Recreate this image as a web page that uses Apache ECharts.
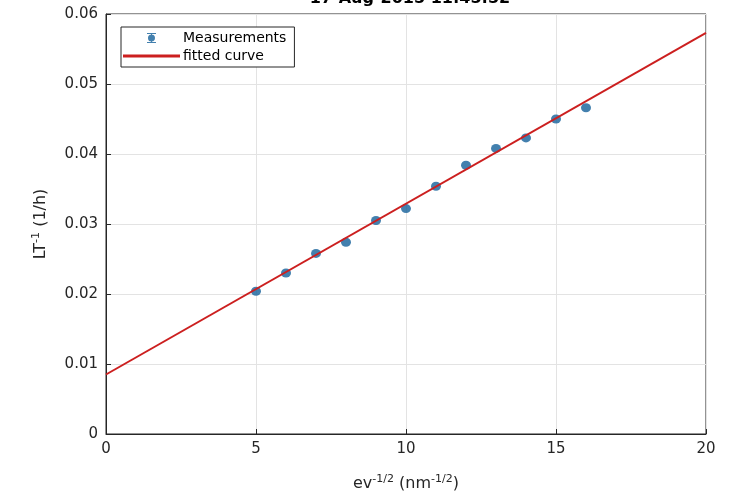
<!DOCTYPE html>
<html>
<head>
<meta charset="utf-8">
<script src="https://cdn.jsdelivr.net/npm/echarts@6/dist/echarts.min.js"></script>
<style>html,body{margin:0;padding:0;background:#fff;}#c{width:735px;height:498px;}</style>
</head>
<body>
<div id="c"></div>
<script>
var titleText = '17-Aug-2015 11:45:52';
var xValues = [5, 6, 7, 8, 9, 10, 11, 12, 13, 14, 15, 16];
var yValues = [0.0204, 0.0230, 0.0258, 0.0274, 0.0305, 0.0322, 0.0354, 0.0384, 0.0408, 0.0423, 0.0450, 0.0466];
var fitX = [0, 20];
var fitY = [0.0085, 0.0573];
var xTicks = [0, 5, 10, 15, 20];
var yTicks = [0, 0.01, 0.02, 0.03, 0.04, 0.05, 0.06];

var chart = echarts.init(document.getElementById('c'), null, {renderer: 'canvas'});
var font = 'DejaVu Sans';
var meas = xValues.map(function (x, i) { return [x, yValues[i]]; });
var fit = fitX.map(function (x, i) { return [x, fitY[i]]; });

chart.setOption({
  backgroundColor: '#fff',
  animation: false,
  title: {
    text: titleText, left: 405, textAlign: 'center', top: -14,
    textStyle: {fontFamily: font, fontSize: 16, fontWeight: 'bold', color: '#000'}
  },
  grid: {left: 106, right: 29, top: 14, bottom: 64, show: true, borderColor: '#262626', borderWidth: 1, backgroundColor: '#fff'},
  legend: {
    left: 121, top: 27, orient: 'vertical', itemGap: 4,
    padding: [4, 8, 4, 2],
    borderColor: '#262626', borderWidth: 1, borderRadius: 0, backgroundColor: '#fff',
    itemWidth: 57, itemHeight: 10,
    textStyle: {fontFamily: font, fontSize: 14, color: '#000', padding: [0, 0, 0, -2]},
    data: [
      {name: 'Measurements', icon: 'path://M0,0 L57,0 L57,0.01 L0,0.01 Z M24,0 L33,0 L33,1 L29,1 L29,9 L33,9 L33,10 L24,10 L24,9 L28,9 L28,1 L24,1 Z M28.5,1.5 A3.5,3.5 0 1 1 28.49,1.5 Z M0,9.99 L57,9.99 L57,10 L0,10 Z'},
      {name: 'fitted curve', icon: 'path://M0,0 L57,0 L57,0.01 L0,0.01 Z M0,3.5 L57,3.5 L57,6.5 L0,6.5 Z M0,9.99 L57,9.99 L57,10 L0,10 Z'}
    ]
  },
  xAxis: {
    type: 'value', min: 0, max: 20, interval: 5,
    name: '{a|ev}{s|-1/2}{a| (nm}{s|-1/2}{a|)}',
    nameLocation: 'middle', nameGap: 40,
    nameTextStyle: {rich: {a: {fontFamily: font, fontSize: 16, color: '#262626'}, s: {fontFamily: font, fontSize: 11, color: '#262626', verticalAlign: 'top', padding: [0, 0, 8, 0]}}},
    axisLine: {show: true, onZero: false, lineStyle: {color: '#262626'}},
    axisTick: {show: true, inside: true, length: 5, lineStyle: {color: '#262626'}},
    axisLabel: {fontFamily: font, fontSize: 15, color: '#262626', margin: 8,
      formatter: function (v) { return xTicks.indexOf(v) >= 0 ? String(v) : ''; }},
    splitLine: {show: true, lineStyle: {color: '#e3e3e3', width: 1}}
  },
  yAxis: {
    type: 'value', min: 0, max: 0.06, interval: 0.01,
    name: '{a|LT}{s|-1}{a| (1/h)}',
    nameLocation: 'middle', nameGap: 56,
    nameTextStyle: {rich: {a: {fontFamily: font, fontSize: 16, color: '#262626'}, s: {fontFamily: font, fontSize: 11, color: '#262626', verticalAlign: 'top', padding: [0, 0, 8, 0]}}},
    axisLine: {show: true, onZero: false, lineStyle: {color: '#262626'}},
    axisTick: {show: true, inside: true, length: 5, lineStyle: {color: '#262626'}},
    axisLabel: {fontFamily: font, fontSize: 15, color: '#262626', margin: 8,
      formatter: function (v) {
        for (var i = 0; i < yTicks.length; i++) { if (Math.abs(yTicks[i] - v) < 1e-9) return String(yTicks[i]); }
        return '';
      }},
    splitLine: {show: true, lineStyle: {color: '#e3e3e3', width: 1}}
  },
  series: [
    {
      name: 'Measurements', type: 'scatter', data: meas, symbol: 'circle', symbolSize: [10, 9],
      itemStyle: {color: '#14609a'}, z: 2
    },
    {
      name: 'fitted curve', type: 'line', data: fit, symbol: 'none',
      lineStyle: {color: '#cc1f1f', width: 2}, itemStyle: {color: '#cc1f1f'}, z: 3
    }
  ]
});
</script>
</body>
</html>
